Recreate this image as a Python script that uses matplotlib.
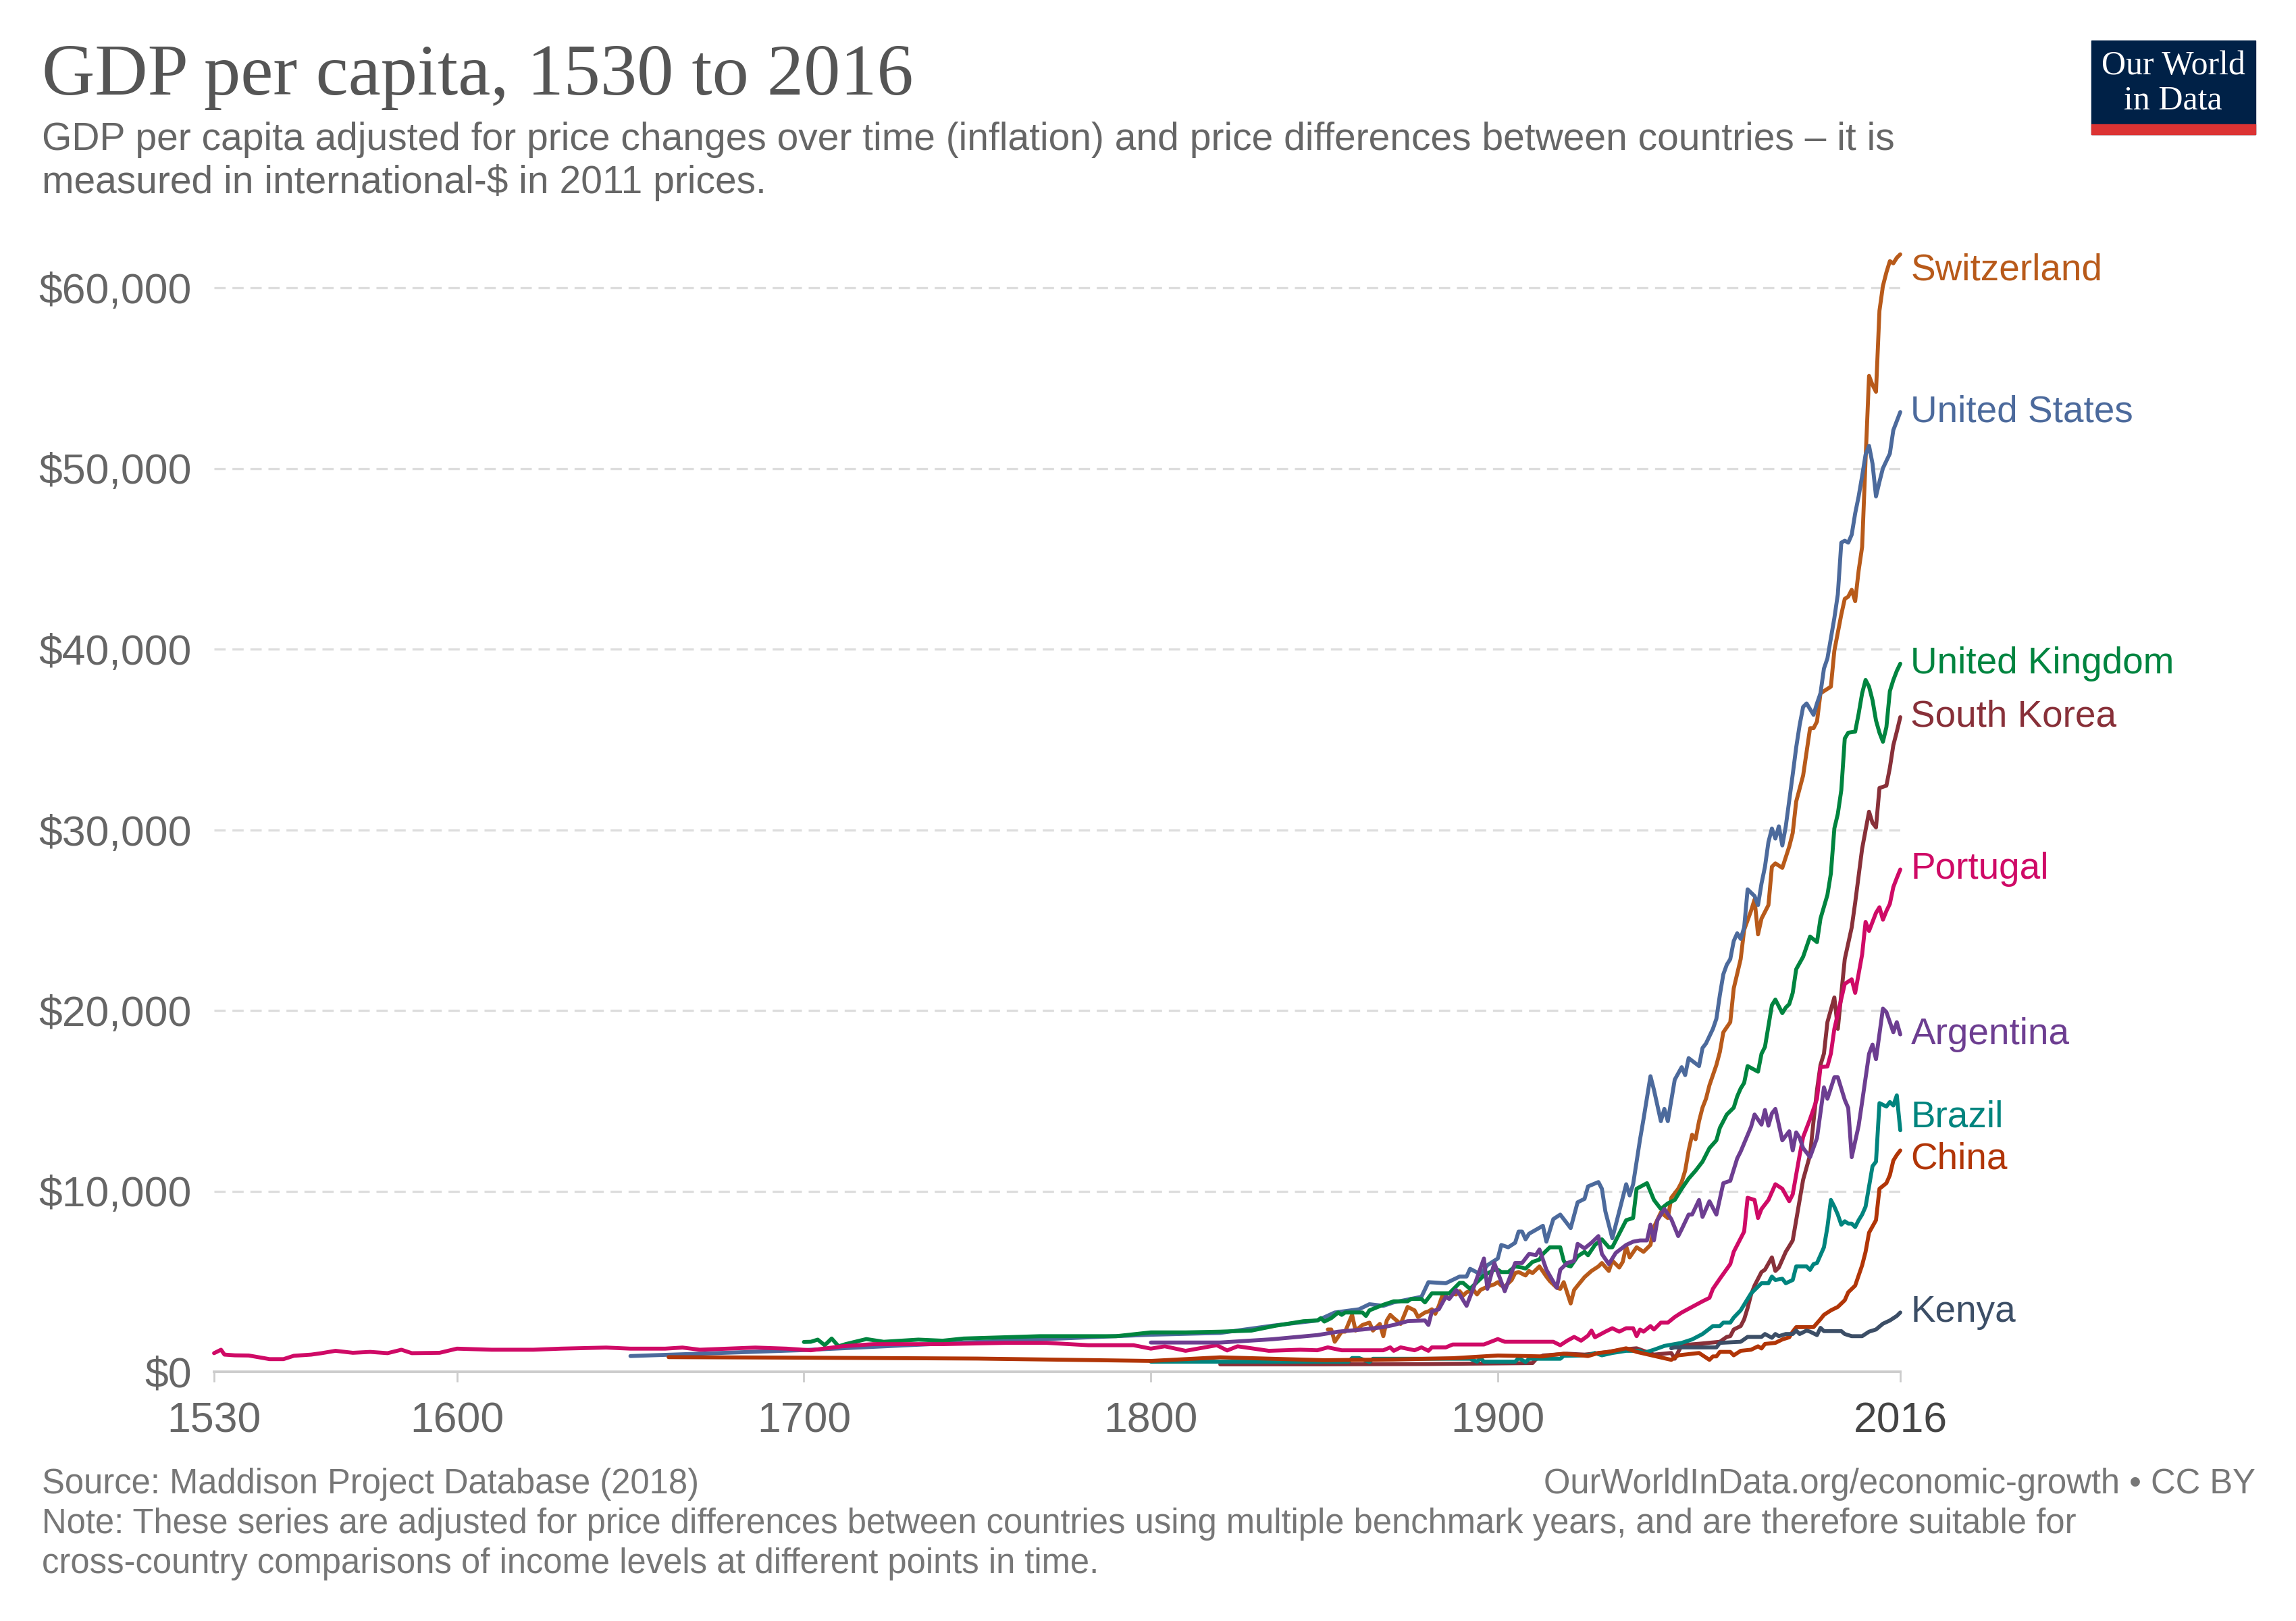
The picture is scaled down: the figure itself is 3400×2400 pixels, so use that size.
import matplotlib
matplotlib.use("Agg")
import matplotlib.pyplot as plt
from matplotlib.patches import Rectangle
from matplotlib.ticker import FuncFormatter

# ---------------- data ----------------
countries = ["Switzerland", "United States", "United Kingdom", "South Korea",
             "Portugal", "Argentina", "Brazil", "China", "Kenya"]

switzerland_years = [1851, 1852, 1853, 1855, 1856, 1858, 1859, 1861, 1863, 1864, 1866, 1867, 1868, 1869, 1870,
                     1872, 1874, 1876, 1877, 1879, 1880, 1881, 1882, 1883, 1884, 1886, 1888, 1889, 1890, 1891,
                     1893, 1894, 1895, 1897, 1899, 1900, 1901, 1902, 1904, 1905, 1906, 1908, 1909, 1910, 1912,
                     1914, 1915, 1917, 1918, 1919, 1921, 1922, 1923, 1925, 1927, 1929, 1930, 1932, 1933, 1935,
                     1936, 1937, 1938, 1940, 1942, 1944, 1945, 1947, 1949, 1950, 1952, 1953, 1954, 1955, 1956,
                     1957, 1958, 1959, 1960, 1961, 1962, 1963, 1964, 1965, 1967, 1968, 1970, 1971, 1973, 1974,
                     1975, 1976, 1978, 1979, 1980, 1982, 1984, 1985, 1986, 1988, 1989, 1990, 1991, 1992, 1993,
                     1996, 1997, 1999, 2000, 2001, 2002, 2003, 2004, 2005, 2006, 2007, 2008, 2009, 2010, 2011,
                     2012, 2013, 2014, 2015, 2016]
switzerland_gdp = [2340, 2340, 1660, 2220, 2220, 3150, 2280, 2590, 2720, 2280, 2650, 1970, 2840, 3150, 2970,
                   2650, 3590, 3400, 3030, 3280, 3340, 3460, 3210, 3650, 4210, 4340, 4280, 4460, 4210, 4400,
                   4530, 4280, 4530, 4710, 4840, 4960, 4770, 4710, 5080, 5460, 5520, 5330, 5580, 5460, 5830,
                   5270, 5020, 4650, 4590, 4960, 3780, 4530, 4770, 5240, 5580, 5830, 6020, 5580, 6150, 5770,
                   6080, 6950, 6330, 6890, 6640, 7020, 8010, 8820, 8510, 9630, 10130, 10500, 11130, 12250, 13120,
                   12870, 13870, 14620, 15110, 15860, 16420, 16980, 17700, 18790, 19350, 21220, 22840, 24460, 25520, 26140,
                   24210, 25080, 25830, 27950, 28140, 27890, 29070, 29820, 31560, 33000, 34310, 35620, 35620, 35990, 37550,
                   37920, 39910, 41910, 42780, 42900, 43280, 42650, 44340, 45650, 50500, 55120, 54620, 54240, 58730, 60100,
                   60850, 61470, 61350, 61660, 61850]

us_years = [1650, 1700, 1750, 1800, 1820, 1835, 1848, 1853, 1860, 1863, 1867, 1870, 1878, 1880, 1885,
            1889, 1891, 1892, 1895, 1897, 1900, 1901, 1903, 1905, 1906, 1907, 1908, 1909, 1913, 1914,
            1916, 1918, 1921, 1923, 1925, 1926, 1929, 1930, 1931, 1933, 1935, 1937, 1938, 1939, 1941,
            1942, 1944, 1945, 1947, 1948, 1949, 1951, 1953, 1954, 1955, 1958, 1959, 1960, 1962, 1963,
            1964, 1965, 1966, 1967, 1968, 1969, 1970, 1971, 1972, 1974, 1975, 1976, 1977, 1978, 1979,
            1980, 1981, 1982, 1983, 1985, 1986, 1987, 1988, 1989, 1991, 1992, 1993, 1994, 1995, 1997,
            1998, 1999, 2000, 2001, 2002, 2003, 2004, 2005, 2006, 2007, 2008, 2009, 2010, 2011, 2013,
            2014, 2015, 2016]
us_gdp = [870, 1200, 1650, 2050, 2150, 2550, 2840, 3280, 3460, 3740, 3650, 3840, 4150, 4960, 4900,
          5270, 5270, 5700, 5400, 5900, 6270, 7020, 6890, 7140, 7760, 7760, 7330, 7640, 8080, 7200,
          8450, 8700, 7950, 9380, 9570, 10260, 10500, 10130, 8880, 7390, 8880, 10380, 9760, 10380, 12870,
          13990, 16360, 15610, 13870, 14550, 13870, 16170, 16860, 16420, 17360, 16920, 17920, 18170, 18980, 19540,
          20850, 22000, 22530, 22840, 23840, 24270, 23960, 24590, 26700, 26330, 25830, 27020, 27950, 29320, 30070,
          29510, 30190, 29130, 30190, 33060, 34560, 35800, 36800, 36990, 36360, 37000, 37550, 38920, 39480, 41720,
          43030, 45890, 46000, 45890, 46330, 47510, 48450, 49570, 50760, 51250, 50260, 48450, 49260, 50010, 50820,
          52120, 52620, 53120]

uk_years = [1700, 1702, 1704, 1706, 1708, 1710, 1712, 1718, 1723, 1733, 1740, 1746, 1758, 1768, 1779,
            1790, 1800, 1810, 1820, 1829, 1836, 1844, 1848, 1849, 1850, 1852, 1854, 1855, 1856, 1861,
            1862, 1863, 1867, 1870, 1874, 1875, 1878, 1879, 1881, 1886, 1889, 1890, 1892, 1894, 1896,
            1899, 1900, 1901, 1903, 1905, 1907, 1908, 1910, 1912, 1913, 1915, 1918, 1919, 1920, 1921,
            1923, 1925, 1926, 1928, 1930, 1932, 1933, 1935, 1937, 1939, 1940, 1943, 1945, 1947, 1949,
            1951, 1953, 1955, 1957, 1959, 1961, 1963, 1964, 1966, 1968, 1969, 1970, 1971, 1972, 1975,
            1976, 1977, 1979, 1980, 1982, 1983, 1984, 1985, 1986, 1988, 1990, 1992, 1993, 1995, 1996,
            1997, 1998, 1999, 2000, 2001, 2003, 2004, 2005, 2006, 2007, 2008, 2009, 2010, 2011, 2012,
            2013, 2014, 2015, 2016]
uk_gdp = [1650, 1660, 1780, 1470, 1840, 1410, 1530, 1810, 1660, 1780, 1720, 1840, 1910, 1970, 1970,
          1970, 2180, 2180, 2220, 2280, 2550, 2800, 2840, 2970, 2780, 2970, 3280, 3150, 3280, 3280,
          3090, 3400, 3710, 3900, 3900, 4030, 4030, 3840, 4340, 4340, 4920, 4920, 4590, 4960, 5330,
          5650, 5650, 5520, 5520, 5830, 5770, 5710, 6080, 6210, 6520, 6890, 6890, 6140, 5890, 5830,
          6390, 6640, 6450, 7020, 7330, 6890, 6890, 7640, 8390, 8510, 10130, 10440, 9510, 9010, 9320,
          9510, 10130, 10690, 11130, 11630, 12380, 12810, 13500, 14240, 14620, 15240, 15680, 15990, 16920, 16610,
          17600, 17980, 20290, 20600, 19850, 20160, 20350, 20970, 22280, 22970, 24090, 23780, 25080, 26390, 27580,
          30070, 30880, 32190, 35050, 35370, 35430, 36420, 37550, 38290, 37920, 37170, 36050, 35370, 34870, 35680,
          37670, 38290, 38790, 39190]

korea_years = [1820, 1850, 1880, 1910, 1911, 1913, 1920, 1925, 1930, 1937, 1940, 1945, 1950, 1951, 1953,
               1958, 1964, 1966, 1967, 1968, 1970, 1971, 1972, 1973, 1974, 1976, 1977, 1979, 1980, 1981,
               1983, 1984, 1985, 1986, 1987, 1988, 1990, 1991, 1992, 1993, 1994, 1995, 1997, 1998, 2000,
               2002, 2003, 2004, 2005, 2007, 2008, 2009, 2010, 2012, 2013, 2014, 2015, 2016]
korea_gdp = [410, 410, 430, 480, 700, 900, 1000, 950, 1050, 1250, 1300, 950, 1040, 720, 1470,
             1550, 1660, 1930, 1970, 2340, 2530, 2900, 3530, 4280, 4770, 5520, 5650, 6330, 5580, 5770,
             6640, 6950, 7270, 8390, 9510, 10630, 12000, 13870, 15610, 16980, 17610, 19350, 20720, 18980, 22840,
             24590, 25960, 27450, 28950, 31000, 30380, 30130, 32310, 32440, 33430, 34680, 35430, 36230]

portugal_years = [1530, 1532, 1533, 1536, 1540, 1546, 1550, 1553, 1558, 1561, 1565, 1570, 1575, 1580, 1584,
                  1587, 1595, 1600, 1610, 1622, 1630, 1643, 1650, 1660, 1665, 1670, 1686, 1695, 1702, 1711,
                  1720, 1740, 1758, 1770, 1782, 1795, 1800, 1804, 1810, 1819, 1822, 1825, 1834, 1843, 1848,
                  1851, 1855, 1867, 1869, 1870, 1872, 1876, 1878, 1880, 1881, 1885, 1887, 1896, 1898, 1900,
                  1902, 1916, 1918, 1920, 1922, 1924, 1926, 1927, 1928, 1931, 1933, 1935, 1937, 1939, 1940,
                  1941, 1942, 1944, 1945, 1947, 1949, 1951, 1953, 1956, 1959, 1961, 1962, 1964, 1967, 1968,
                  1971, 1972, 1974, 1975, 1976, 1978, 1980, 1982, 1984, 1985, 1987, 1988, 1990, 1992, 1993,
                  1995, 1996, 1997, 2000, 2002, 2003, 2005, 2006, 2007, 2009, 2010, 2011, 2012, 2013, 2014,
                  2015, 2016]
portugal_gdp = [1030, 1220, 950, 910, 900, 700, 700, 885, 950, 1030, 1160, 1050, 1100, 1030, 1220,
                1030, 1050, 1280, 1220, 1220, 1280, 1340, 1280, 1280, 1340, 1220, 1340, 1280, 1190, 1410,
                1530, 1530, 1600, 1600, 1470, 1470, 1280, 1410, 1160, 1470, 1180, 1410, 1160, 1220, 1190,
                1350, 1190, 1190, 1350, 1160, 1350, 1190, 1350, 1160, 1350, 1350, 1510, 1510, 1660, 1810,
                1660, 1660, 1470, 1720, 1930, 1720, 2000, 2280, 1910, 2220, 2410, 2220, 2410, 2410, 1970,
                2340, 2220, 2530, 2340, 2720, 2720, 3030, 3280, 3590, 3900, 4090, 4590, 5150, 5960, 6640,
                7760, 9630, 9510, 8510, 9010, 9510, 10380, 10130, 9440, 9820, 12000, 12990, 13990, 15110, 16860,
                16900, 17610, 18980, 21470, 21720, 20970, 23090, 24900, 24400, 25400, 25710, 25020, 25500, 25900, 26830,
                27330, 27800]

argentina_years = [1800, 1820, 1835, 1848, 1854, 1861, 1867, 1870, 1874, 1879, 1880, 1881, 1883, 1885, 1886,
                   1888, 1889, 1891, 1893, 1896, 1897, 1899, 1902, 1905, 1907, 1909, 1911, 1912, 1914, 1917,
                   1918, 1920, 1922, 1923, 1925, 1927, 1929, 1930, 1932, 1934, 1937, 1939, 1941, 1943, 1944,
                   1945, 1946, 1948, 1950, 1952, 1953, 1955, 1956, 1958, 1959, 1961, 1963, 1965, 1967, 1969,
                   1970, 1973, 1974, 1976, 1977, 1978, 1979, 1980, 1982, 1984, 1985, 1986, 1987, 1988, 1990,
                   1992, 1994, 1995, 1997, 1998, 2000, 2001, 2002, 2004, 2005, 2007, 2008, 2009, 2011, 2012,
                   2014, 2015, 2016]
argentina_gdp = [1620, 1620, 1800, 2030, 2220, 2340, 2470, 2590, 2800, 2840, 2590, 3340, 3460, 4150, 4030,
                 4530, 4280, 3650, 4650, 6270, 4590, 6020, 4460, 6020, 6020, 6520, 6460, 6770, 5650, 4650,
                 5650, 6020, 6140, 7080, 6830, 7140, 7510, 6520, 5960, 6580, 7020, 7200, 7270, 7270, 8140,
                 7270, 8390, 9010, 8450, 7510, 7890, 8700, 8700, 9510, 8570, 9440, 8700, 10440, 10570, 11810,
                 12190, 13560, 14240, 13680, 14490, 13620, 14300, 14550, 12810, 13310, 12250, 13250, 12940, 12380, 11880,
                 12940, 15740, 15110, 16300, 16300, 15050, 14600, 11880, 13620, 14930, 17600, 18110, 17300, 20100, 19910,
                 18790, 19350, 18670]

brazil_years = [1800, 1850, 1857, 1858, 1860, 1863, 1864, 1892, 1894, 1895, 1896, 1905, 1906, 1908, 1909,
                1918, 1919, 1926, 1928, 1930, 1933, 1937, 1941, 1942, 1945, 1948, 1953, 1956, 1959, 1962,
                1964, 1965, 1967, 1968, 1970, 1972, 1973, 1976, 1978, 1979, 1980, 1982, 1983, 1985, 1986,
                1989, 1990, 1991, 1992, 1994, 1995, 1996, 1997, 1998, 1999, 2000, 2001, 2002, 2003, 2004,
                2005, 2006, 2008, 2009, 2010, 2012, 2013, 2014, 2015, 2016]
brazil_gdp = [560, 560, 560, 760, 760, 540, 720, 720, 560, 760, 560, 560, 760, 540, 720,
              720, 880, 910, 1040, 910, 1040, 1160, 1160, 1040, 1220, 1430, 1600, 1790, 2090, 2530,
              2530, 2720, 2720, 3000, 3400, 4030, 4340, 4900, 4900, 5270, 5080, 5150, 4900, 5080, 5830,
              5830, 5640, 5960, 6020, 6890, 8010, 9510, 9140, 8700, 8140, 8330, 8200, 8200, 8010, 8390,
              8700, 9140, 11380, 11630, 14870, 14680, 14930, 14740, 15300, 13370]

china_years = [1661, 1700, 1750, 1800, 1820, 1850, 1870, 1887, 1900, 1913, 1915, 1919, 1926, 1929, 1932,
               1937, 1940, 1950, 1952, 1958, 1961, 1962, 1963, 1964, 1967, 1968, 1970, 1973, 1975, 1976,
               1977, 1980, 1982, 1984, 1985, 1986, 1991, 1993, 1994, 1996, 1998, 2000, 2001, 2003, 2005,
               2006, 2007, 2009, 2010, 2012, 2013, 2014, 2015, 2016]
china_gdp = [810, 780, 730, 600, 800, 640, 680, 750, 900, 850, 910, 1000, 870, 1040, 1100,
             1300, 1100, 660, 910, 1040, 660, 850, 850, 1100, 1100, 910, 1160, 1220, 1410, 1290,
             1540, 1600, 1790, 1910, 2220, 2470, 2470, 2910, 3150, 3400, 3590, 3960, 4400, 4770, 5890,
             6640, 7700, 8390, 10130, 10440, 10880, 11690, 12000, 12250]

kenya_years = [1950, 1951, 1963, 1964, 1970, 1972, 1976, 1977, 1979, 1980, 1981, 1983, 1985, 1986, 1987,
               1989, 1990, 1992, 1993, 1994, 1999, 2000, 2002, 2005, 2007, 2009, 2011, 2013, 2015, 2016]
kenya_gdp = [1300, 1350, 1350, 1600, 1660, 1930, 1930, 2090, 1880, 2090, 1970, 2090, 2090, 2280, 2090,
             2280, 2220, 2030, 2430, 2250, 2250, 2090, 1970, 1970, 2220, 2340, 2660, 2840, 3090, 3280]

x_ticks = [1530, 1600, 1700, 1800, 1900, 2016]
y_ticks = [0, 10000, 20000, 30000, 40000, 50000, 60000]

title = "GDP per capita, 1530 to 2016"
subtitle = ("GDP per capita adjusted for price changes over time (inflation) and price differences between countries – it is\n"
            "measured in international-$ in 2011 prices.")
source = "Source: Maddison Project Database (2018)"
url = "OurWorldInData.org/economic-growth • CC BY"
note = ("Note: These series are adjusted for price differences between countries using multiple benchmark years, and are therefore suitable for\n"
        "cross-country comparisons of income levels at different points in time.")

series = {
    "Switzerland": (switzerland_years, switzerland_gdp),
    "United States": (us_years, us_gdp),
    "United Kingdom": (uk_years, uk_gdp),
    "South Korea": (korea_years, korea_gdp),
    "Portugal": (portugal_years, portugal_gdp),
    "Argentina": (argentina_years, argentina_gdp),
    "Brazil": (brazil_years, brazil_gdp),
    "China": (china_years, china_gdp),
    "Kenya": (kenya_years, kenya_gdp),
}

# ---------------- styles ----------------
colors = {
    "Switzerland": "#B85A1A",
    "United States": "#4C6A9C",
    "United Kingdom": "#00843F",
    "South Korea": "#883039",
    "Portugal": "#CF0A66",
    "Argentina": "#6D3E91",
    "Brazil": "#00847E",
    "China": "#B13507",
    "Kenya": "#3C4E66",
}
label_offsets = {"Switzerland": -900, "Brazil": 720, "China": -500}

SANS = ["Liberation Sans", "DejaVu Sans"]
SERIF = ["Liberation Serif", "DejaVu Serif"]

W, H = 3400, 2400
fig = plt.figure(figsize=(W / 100, H / 100), dpi=100)
fig.patch.set_facecolor("white")

def fx(px):
    return px / W

def fy(py):
    return 1 - py / H

ymax = 62000
ax_left, ax_right, ax_bottom = 317, 2814, 2031
ax_top = ax_bottom - ymax * 0.02675
ax = fig.add_axes([fx(ax_left), fy(ax_bottom), (ax_right - ax_left) / W, (ax_bottom - ax_top) / H])
ax.set_xlim(1530, 2016)
ax.set_ylim(0, ymax)

for yv in y_ticks[1:]:
    ax.axhline(yv, color="#dddddd", lw=2.4, dashes=(5, 3), zorder=1)

for name in countries:
    yrs, vals = series[name]
    ax.plot(yrs, vals, color=colors[name], lw=4.2, solid_joinstyle="round",
            solid_capstyle="round", zorder=3, clip_on=False)
    ax.text(2016 + 3.0, vals[-1] + label_offsets.get(name, 0), name, color=colors[name],
            fontsize=39.5, family=SANS, va="center", ha="left", clip_on=False)

for s in ["top", "right", "left"]:
    ax.spines[s].set_visible(False)
ax.spines["bottom"].set_color("#cccccc")
ax.spines["bottom"].set_linewidth(2.8)
ax.spines["bottom"].set_zorder(2)

ax.set_xticks(x_ticks)
ax.set_xticklabels([str(t) for t in x_ticks])
ax.tick_params(axis="x", length=11, width=2, color="#cccccc", labelsize=45,
               labelcolor="#666666", pad=20)
for lab in ax.get_xticklabels():
    lab.set_family(SANS)
ax.get_xticklabels()[-1].set_color("#444444")

ax.set_yticks(y_ticks)
ax.yaxis.set_major_formatter(FuncFormatter(lambda v, p: "${:,.0f}".format(v)))
ax.tick_params(axis="y", length=0, labelsize=45, labelcolor="#666666", pad=24)
for lab in ax.get_yticklabels():
    lab.set_family(SANS)

# header
fig.text(fx(62), fy(140), title, family=SERIF, fontsize=78, color="#555555", va="baseline", ha="left")
fig.text(fx(62), fy(180), subtitle, family=SANS, fontsize=41, color="#666666", va="top", ha="left",
         linespacing=1.2)

# logo
fig.patches.append(Rectangle((fx(3097), fy(199)), (3340 - 3097) / W, (199 - 60) / H,
                             transform=fig.transFigure, color="#002147", zorder=5))
fig.patches.append(Rectangle((fx(3097), fy(199)), (3340 - 3097) / W, 15 / H,
                             transform=fig.transFigure, color="#DC3333", zorder=6))
fig.text(fx(3218), fy(98), "Our World", family=SERIF, fontsize=36, color="white", ha="center",
         va="center", zorder=7)
fig.text(fx(3218), fy(149), "in Data", family=SERIF, fontsize=36, color="white", ha="center",
         va="center", zorder=7)

# footer
fig.text(fx(62), fy(2198), source, family=SANS, fontsize=36.5, color="#777777", va="center", ha="left")
fig.text(fx(3340), fy(2198), url, family=SANS, fontsize=36.5, color="#777777", va="center", ha="right")
fig.text(fx(62), fy(2232), note, family=SANS, fontsize=36.5, color="#777777", va="top", ha="left",
         linespacing=1.25)

fig.savefig("out.png", dpi=100, facecolor="white")
